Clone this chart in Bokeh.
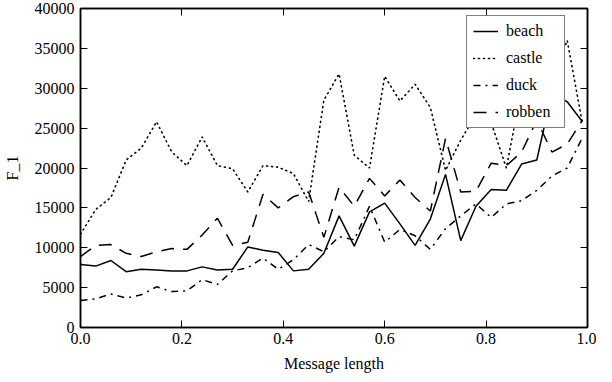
from bokeh.plotting import figure
from bokeh.models import LinearAxis, Legend, LegendItem, FixedTicker, Range1d, NumeralTickFormatter
from bokeh.embed import file_html
from bokeh.resources import INLINE

msg_len = [0.00, 0.03, 0.06, 0.09, 0.12, 0.15, 0.18, 0.21, 0.24, 0.27, 0.30, 0.33,
           0.36, 0.39, 0.42, 0.45, 0.48, 0.51, 0.54, 0.57, 0.60, 0.63, 0.66, 0.69,
           0.72, 0.75, 0.78, 0.81, 0.84, 0.87, 0.90, 0.93, 0.96, 0.99]

beach = [7900, 7700, 8400, 7000, 7300, 7200, 7100, 7100, 7600, 7200, 7300, 10100,
         9700, 9400, 7100, 7300, 9300, 14000, 10200, 14500, 15600, 13000, 10300, 13600,
         19200, 10900, 15200, 17300, 17200, 20500, 21000, 29500, 28300, 25800]

castle = [11700, 14800, 16300, 21000, 22500, 25800, 22000, 20300, 23900, 20300, 19900, 17000,
          20300, 20100, 19300, 15800, 28500, 31800, 21600, 20000, 31500, 28400, 30500, 27600,
          19700, 23500, 26700, 25700, 20000, 30000, 29000, 31000, 36000, 25600]

duck = [3400, 3600, 4200, 3700, 4100, 5100, 4500, 4600, 6000, 5400, 7100, 7500,
        8700, 7300, 8500, 10400, 9500, 11400, 11000, 15200, 10700, 12300, 11500, 9800,
        12400, 14000, 15500, 13800, 15500, 15900, 17200, 19000, 20000, 23800]

robben = [8900, 10300, 10400, 9300, 8900, 9500, 9900, 9800, 11600, 13700, 10300, 10700,
          16700, 15000, 16400, 17000, 11300, 17600, 15200, 18700, 16500, 18500, 16300, 14600,
          23700, 17000, 17100, 20600, 20300, 22000, 26000, 22000, 23000, 26000]

x_ticks = [0.0, 0.2, 0.4, 0.6, 0.8, 1.0]
y_ticks = [0, 5000, 10000, 15000, 20000, 25000, 30000, 35000, 40000]

FONT = "Liberation Serif"

p = figure(width=596, height=374, x_range=Range1d(0, 1), y_range=Range1d(0, 40000),
           output_backend="svg", toolbar_location=None,
           min_border_left=76, min_border_right=9, min_border_top=8, min_border_bottom=46)
p.xgrid.visible = False
p.ygrid.visible = False
p.outline_line_color = "black"
p.outline_line_width = 1.5

def style_axis(ax, ticks, fmt, show_labels=True):
    ax.ticker = FixedTicker(ticks=ticks)
    ax.formatter = NumeralTickFormatter(format=fmt)
    ax.major_tick_in = 7
    ax.major_tick_out = 0
    ax.minor_tick_in = 0
    ax.minor_tick_out = 0
    ax.major_tick_line_color = "black"
    ax.major_tick_line_width = 1
    ax.axis_line_color = "black"
    ax.axis_line_width = 1.5
    ax.major_label_text_font = FONT
    if show_labels:
        ax.major_label_text_font_size = "16px"
        ax.major_label_text_color = "black"
    else:
        ax.major_label_text_font_size = "1px"
        ax.major_label_text_color = None
        ax.major_label_standoff = 0

xa = p.xaxis[0]
ya = p.yaxis[0]
style_axis(xa, x_ticks, "0.0")
style_axis(ya, y_ticks, "0")
xa.major_label_standoff = 5
ya.major_label_standoff = 6
xa.axis_label = "Message length"
ya.axis_label = "F_1"
for ax in (xa, ya):
    ax.axis_label_text_font = FONT
    ax.axis_label_text_font_style = "normal"
    ax.axis_label_text_font_size = "16px"
    ax.axis_label_text_color = "black"
xa.axis_label_standoff = 8
ya.axis_label_standoff = 11

top = LinearAxis()
style_axis(top, x_ticks, "0.0", show_labels=False)
p.add_layout(top, "above")
right = LinearAxis()
style_axis(right, y_ticks, "0", show_labels=False)
p.add_layout(right, "right")

r_beach = p.line(msg_len, beach, line_color="black", line_width=1.5)
r_castle = p.line(msg_len, castle, line_color="black", line_width=1.6, line_dash="1 4", line_cap="round")
r_duck = p.line(msg_len, duck, line_color="black", line_width=1.5, line_dash="7 5 2 5")
r_robben = p.line(msg_len, robben, line_color="black", line_width=1.5, line_dash="13 9")

legend = Legend(items=[
    LegendItem(label="beach", renderers=[r_beach]),
    LegendItem(label="castle", renderers=[r_castle]),
    LegendItem(label="duck", renderers=[r_duck]),
    LegendItem(label="robben", renderers=[r_robben]),
], location=(386, 199))
legend.label_text_font = FONT
legend.label_text_font_size = "16px"
legend.label_text_color = "black"
legend.border_line_color = "black"
legend.border_line_width = 1.5
legend.background_fill_color = "white"
legend.background_fill_alpha = 1.0
legend.padding = 6
legend.spacing = 9
legend.margin = 0
legend.glyph_width = 25
legend.glyph_height = 16
legend.label_height = 16
legend.label_width = 52
legend.label_standoff = 8
p.add_layout(legend)

open("out.html", "w").write(file_html(p, INLINE))
